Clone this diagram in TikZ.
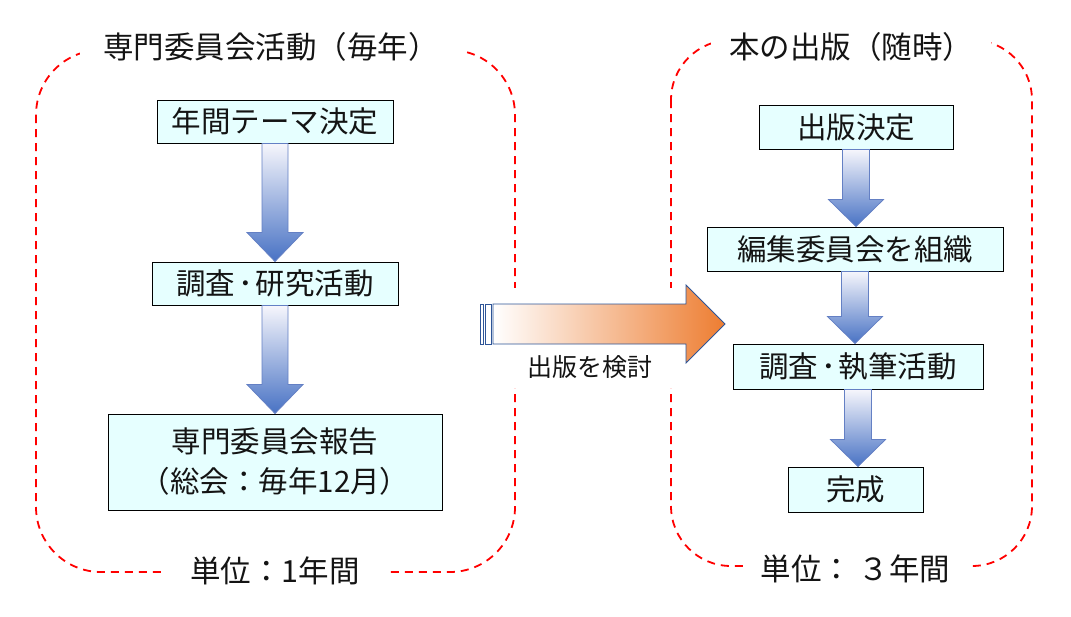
\documentclass[tikz,border=0pt]{standalone}
\usepackage{fontspec}
\setmainfont{Noto Sans CJK JP}
\usetikzlibrary{calc}
\definecolor{boxfill}{RGB}{230,255,255}
\definecolor{arrowblue}{RGB}{72,114,196}
\definecolor{arrowtop}{RGB}{246,246,252}
\definecolor{arrowedge}{RGB}{100,128,196}
\definecolor{orangeA}{RGB}{237,125,49}
\definecolor{orangeedge}{RGB}{47,85,151}
\definecolor{txt}{RGB}{20,20,20}
\newcommand{\blkarrow}[5]{%
  \path[barrow] let \p1=(#1.south), \p2=(#2.north) in
    (\x1-#3pt,\y1) -- (\x1-#3pt,\y2+#5pt) -- (\x1-#4pt,\y2+#5pt) -- (\x1,\y2)
    -- (\x1+#4pt,\y2+#5pt) -- (\x1+#3pt,\y2+#5pt) -- (\x1+#3pt,\y1) -- cycle;}
\newcommand{\mdot}{\kern3pt･\kern3pt}
\begin{document}
\begin{tikzpicture}[x=1pt,y=-1pt,
  box/.style={draw=black, line width=1pt, fill=boxfill, inner sep=0pt, text=txt,
    font=\fontsize{29.5}{40}\selectfont, align=center},
  frame/.style={draw=red, line width=1.8pt, dash pattern=on 8pt off 6pt, rounded corners=#1},
  lbl/.style={fill=white, inner sep=0pt, text=txt, font=\fontsize{30.5}{36}\selectfont, minimum height=40pt},
  barrow/.style={draw=arrowedge, line width=0.8pt, top color=arrowtop, bottom color=arrowblue},
  oarrow/.style={draw=orangeedge, line width=0.8pt, left color=white, right color=orangeA},
  stripe/.style={draw=orangeedge, line width=0.8pt, fill=white},
]
\useasboundingbox (0,0) rectangle (1071,616);

% dashed frames
\draw[frame=65] (36,50) rectangle (515,572);
\draw[frame=60] (671,40) rectangle (1032,566);
\fill[white] (500,288) rectangle (690,388);

% frame labels
\node[lbl, minimum width=382] (tL) at (271,47) {専門委員会活動（毎年）};
\node[lbl, minimum width=224] (bL) at (275,571) {単位：1年間};
\node[lbl, minimum width=280] (tR) at (851,47) {本の出版（随時）};
\node[lbl, minimum width=225] (bR) at (855.5,569) {単位： ３年間};

% left boxes
\node[box, minimum width=236, minimum height=43] (L1) at (275,121.5) {年間テーマ決定};
\node[box, minimum width=246, minimum height=43] (L2) at (275,283.5) {調査\mdot 研究活動};
\node[box, minimum width=334, minimum height=96] (L3) at (275,462) {専門委員会報告\\（総会：毎年12月）};

% right boxes
\node[box, minimum width=194, minimum height=44] (R1) at (856,127) {出版決定};
\node[box, minimum width=296, minimum height=44] (R2) at (855,249) {編集委員会を組織};
\node[box, minimum width=250, minimum height=45] (R3) at (858,366.5) {調査\mdot 執筆活動};
\node[box, minimum width=135, minimum height=45] (R4) at (855.5,489.5) {完成};

% block arrows
\blkarrow{L1}{L2}{13}{28}{29}
\blkarrow{L2}{L3}{13}{28}{29}
\blkarrow{R1}{R2}{13.5}{27.5}{27}
\blkarrow{R2}{R3}{13.5}{27.5}{27}
\blkarrow{R3}{R4}{13.5}{27.5}{27}

% orange arrow
\coordinate (oa) at (493,324);
\coordinate (ob) at (725,324);
\path[oarrow] ($(oa)+(0,-20)$) -- ($(ob)+(-39,-20)$) -- ($(ob)+(-39,-39)$) -- (ob)
  -- ($(ob)+(-39,39)$) -- ($(ob)+(-39,20)$) -- ($(oa)+(0,20)$) -- cycle;
\path[stripe] ($(oa)+(-13,-20)$) rectangle ($(oa)+(-10,20)$);
\path[stripe] ($(oa)+(-8,-20)$) rectangle ($(oa)+(-2,20)$);
\node[inner sep=0pt, text=txt, font=\fontsize{25}{30}\selectfont] (ol) at (590,367) {出版を検討};
\end{tikzpicture}
\end{document}
